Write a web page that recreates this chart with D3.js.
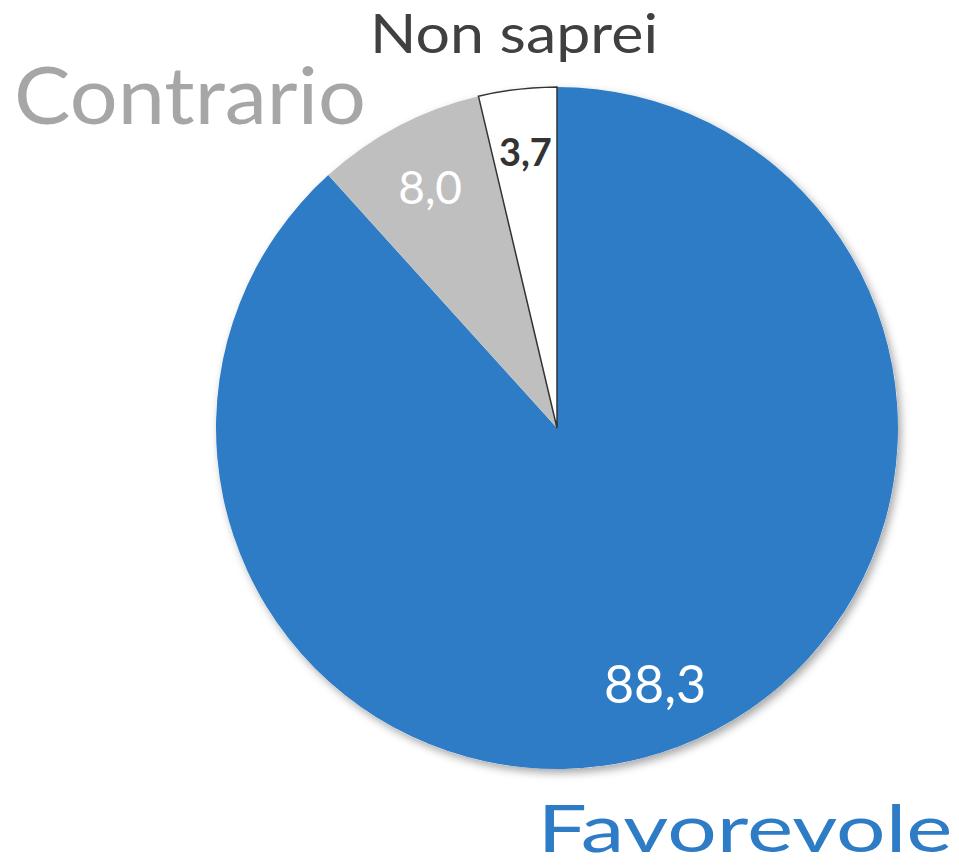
<html>
<head>
    <meta charset="UTF-8" />
    <script src="https://d3js.org/d3.v7.min.js"></script>
    <style>
        body { margin: 0; background: white; }
        text { font-family: "Lato", "Open Sans", sans-serif; }
    </style>
</head>
<body>
    <svg id="pie" width="959" height="867"></svg>
    <script>
        // data
        const categories = ["Favorevole", "Contrario", "Non saprei"];
        const values = [88.3, 8.0, 3.7];
        const valueLabels = ["88,3", "8,0", "3,7"];

        const colors = ["#2e7cc6", "#bfbfbf", "#ffffff"];
        const labelColors = ["#2e7cc6", "#a6a6a6", "#404040"];
        const valueColors = ["#ffffff", "#ffffff", "#333333"];

        const svg = d3.select("#pie");
        const cx = 557, cy = 428, radius = 341;

        const defs = svg.append("defs");
        const filter = defs.append("filter").attr("id", "shadow")
            .attr("x", "-10%").attr("y", "-10%").attr("width", "120%").attr("height", "120%");
        filter.append("feDropShadow")
            .attr("dx", 3).attr("dy", 4)
            .attr("stdDeviation", 4)
            .attr("flood-color", "#000")
            .attr("flood-opacity", 0.35);

        const g = svg.append("g").attr("transform", "translate(" + cx + "," + cy + ")");

        const pie = d3.pie().sort(null).value(d => d);
        const arcs = pie(values);
        const arc = d3.arc().innerRadius(0).outerRadius(radius);
        const labelArc = d3.arc().innerRadius(radius * 0.8).outerRadius(radius * 0.8);

        // shadow under the whole pie
        g.append("circle").attr("r", radius).style("fill", "#fff").attr("filter", "url(#shadow)");

        g.selectAll("path.slice").data(arcs)
            .join("path")
            .attr("class", "slice")
            .attr("d", arc)
            .style("fill", (d, i) => colors[i])
            .style("stroke", (d, i) => i == 2 ? "#333" : "none")
            .style("stroke-width", 1.5);

        // value labels
        const valueSizes = [52, 46, 38];
        const valueWeights = ["normal", "normal", "bold"];
        const valueShift = [[0, 0], [0, 0], [0, -6]];
        g.selectAll("text.value").data(arcs)
            .join("text")
            .attr("class", "value")
            .attr("x", (d, i) => labelArc.centroid(d)[0] + valueShift[i][0])
            .attr("y", (d, i) => labelArc.centroid(d)[1] + valueShift[i][1])
            .attr("text-anchor", "middle")
            .attr("dominant-baseline", "central")
            .style("font-size", (d, i) => valueSizes[i] + "px")
            .style("font-weight", (d, i) => valueWeights[i])
            .style("fill", (d, i) => valueColors[i])
            .text((d, i) => valueLabels[i]);

        // category labels
        const catPos = [[745, 852], [190, 124], [514, 53]];
        const catSizes = [66, 80, 54];
        const catWidths = [415, 352, 288];
        svg.selectAll("text.cat").data(categories)
            .join("text")
            .attr("class", "cat")
            .attr("x", (d, i) => catPos[i][0])
            .attr("y", (d, i) => catPos[i][1])
            .attr("text-anchor", "middle")
            .attr("textLength", (d, i) => catWidths[i])
            .attr("lengthAdjust", "spacingAndGlyphs")
            .style("font-size", (d, i) => catSizes[i] + "px")
            .style("fill", (d, i) => labelColors[i])
            .text(d => d);
    </script>
</body>
</html>
